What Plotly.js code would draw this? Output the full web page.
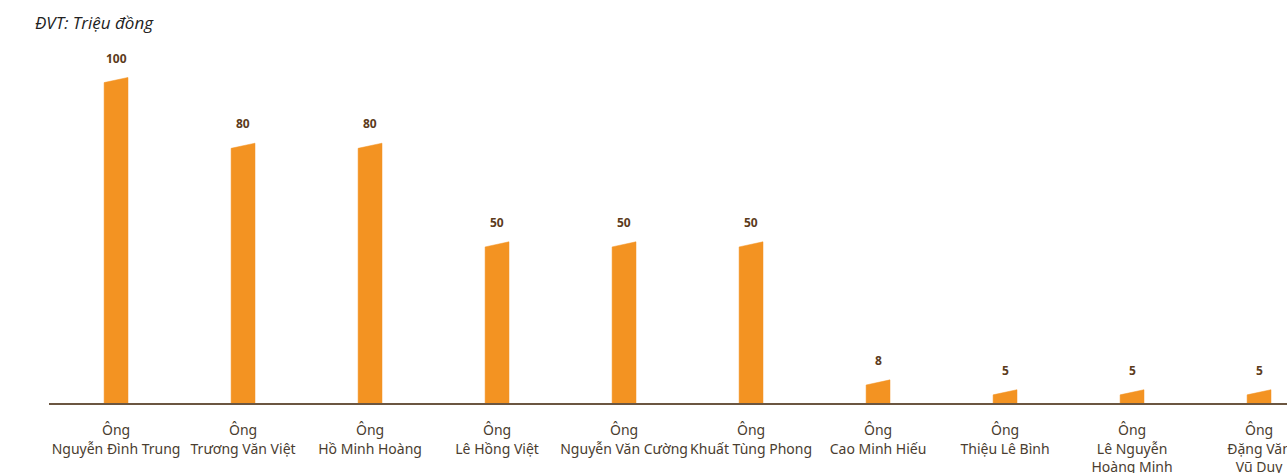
<!DOCTYPE html>
<html><head><meta charset="utf-8">
<script src="https://cdn.plot.ly/plotly-3.0.1.min.js"></script>
<style>html,body{margin:0;padding:0;background:#fff;overflow:hidden;width:1287px;height:473px}#c{width:1420px;height:473px}</style>
</head><body><div id="c"></div>
<script>
const names = [
  "Ông<br>Nguyễn Đình Trung",
  "Ông<br>Trương Văn Việt",
  "Ông<br>Hồ Minh Hoàng",
  "Ông<br>Lê Hồng Việt",
  "Ông<br>Nguyễn Văn Cường",
  "Ông<br>Khuất Tùng Phong",
  "Ông<br>Cao Minh Hiếu",
  "Ông<br>Thiệu Lê Bình",
  "Ông<br>Lê Nguyễn<br>Hoàng Minh",
  "Ông<br>Đặng Văn<br>Vũ Duy"
];
const values = [100, 80, 80, 50, 50, 50, 8, 5, 5, 5];
const unit = "ĐVT: Triệu đồng";

const idx = names.map((_, i) => i);
const halfW = 0.094, slant = 0.78;
const px = [], py = [];
values.forEach((v, i) => {
  px.push(i - halfW, i - halfW, i + halfW, i + halfW, i - halfW, null);
  py.push(0, v - slant, v + slant, 0, 0, null);
});

const traces = [{
  type: 'scatter', mode: 'lines', x: px, y: py, fill: 'toself',
  fillcolor: '#F39322', line: {color: '#F39322', width: 0.5},
  hoverinfo: 'skip', showlegend: false
}];

const W = 1420, L = 49;
const plotW = W - L;
const annotations = values.map((v, i) => ({
  x: i, y: v, xref: 'x', yref: 'y', text: String(v), showarrow: false,
  yanchor: 'middle', yshift: 22,
  font: {family: 'Noto Sans, sans-serif', size: 12, color: '#5c3b1c', weight: 'bold'}
}));
annotations.push({
  xref: 'paper', yref: 'paper', x: (33 - L) / plotW, y: 1.0, xanchor: 'left', yanchor: 'middle',
  yshift: -2, text: '<i>' + unit + '</i>', showarrow: false,
  font: {family: 'Open Sans, Noto Sans, sans-serif', size: 17, color: '#222'}
});

const layout = {
  width: W, height: 473,
  margin: {l: L, r: 0, t: 20, b: 70},
  paper_bgcolor: '#fff', plot_bgcolor: '#fff',
  showlegend: false,
  xaxis: {
    range: [-0.528, -0.528 + plotW / 127], tickmode: 'array', tickvals: idx, ticktext: names,
    showgrid: false, zeroline: false, showline: true, linecolor: '#6b5641', linewidth: 1.5,
    ticks: '', ticklabelstandoff: 14,
    tickfont: {family: 'Noto Sans, sans-serif', size: 14, color: '#4a3d30'}
  },
  yaxis: {
    range: [1.74, 118.26], visible: false, showgrid: false, zeroline: false
  },
  annotations: annotations
};
Plotly.newPlot('c', traces, layout, {displayModeBar: false, staticPlot: true});
</script></body></html>
